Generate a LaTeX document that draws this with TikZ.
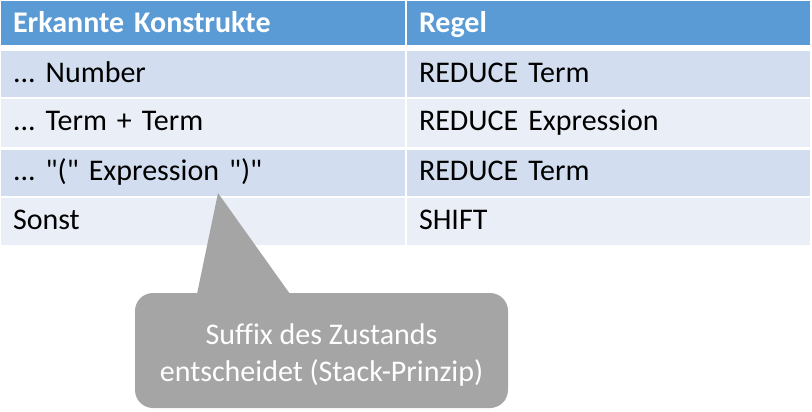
\documentclass[tikz,border=0pt]{standalone}
\usepackage{fontspec}
\setmainfont{Carlito}[Ligatures={TeXOff,NoCommon}]
\usepackage{xcolor}
\usetikzlibrary{positioning}
\definecolor{headblue}{HTML}{5B9BD5}
\definecolor{rowdark}{HTML}{D2DEEF}
\definecolor{rowlight}{HTML}{EAEFF7}
\definecolor{notegray}{HTML}{A5A5A5}
\frenchspacing
\begin{document}
\begin{tikzpicture}[x=1pt, y=-1pt, font=\fontsize{30}{36}\selectfont,
cell/.style={rectangle, inner sep=0pt, text width=#1-24pt, minimum width=#1, align=left, text height=16pt, text depth=0pt},
hcell/.style={cell=#1, fill=headblue, text=white, font=\fontsize{30}{36}\selectfont\bfseries, minimum height=44, text height=20pt},
dcell/.style={cell=#1, fill=rowdark, minimum height=46},
lcell/.style={cell=#1, fill=rowlight, minimum height=47},
note/.style={rectangle, rounded corners=18pt, fill=notegray, minimum width=373, minimum height=115},
notetext/.style={text=white, align=center, inner sep=0pt, font=\fontsize{30}{37}\selectfont}]
\useasboundingbox (0,0) rectangle (812,412);
\node[hcell=404] (h1) at (203,23) {Erkannte Konstrukte};
\node[hcell=403] (h2) at (608.5,23) {Regel};
\node[dcell=404] (a1) at (203,74.5) {... Number};
\node[dcell=403] (a2) at (608.5,74.5) {REDUCE Term};
\node[lcell=404] (b1) at (203,123) {... Term + Term};
\node[lcell=403] (b2) at (608.5,123) {REDUCE Expression};
\node[dcell=404] (c1) at (203,172.5) {... "(" Expression ")"};
\node[dcell=403] (c2) at (608.5,172.5) {REDUCE Term};
\node[lcell=404] (d1) at (203,221.5) {Sonst};
\node[lcell=403] (d2) at (608.5,221.5) {SHIFT};
% callout
\coordinate (tip) at (218,193);
\coordinate (pl) at (197,294);
\coordinate (pr) at (290,294);
\fill[notegray] (pl) -- (tip) -- (pr) -- cycle;
\node[note] (note) at (321.5,350.5) {};
\node[notetext] (txt) at ([yshift=-4pt]note.center) {Suffix des Zustands\\entscheidet (Stack-Prinzip)};
\end{tikzpicture}
\end{document}
